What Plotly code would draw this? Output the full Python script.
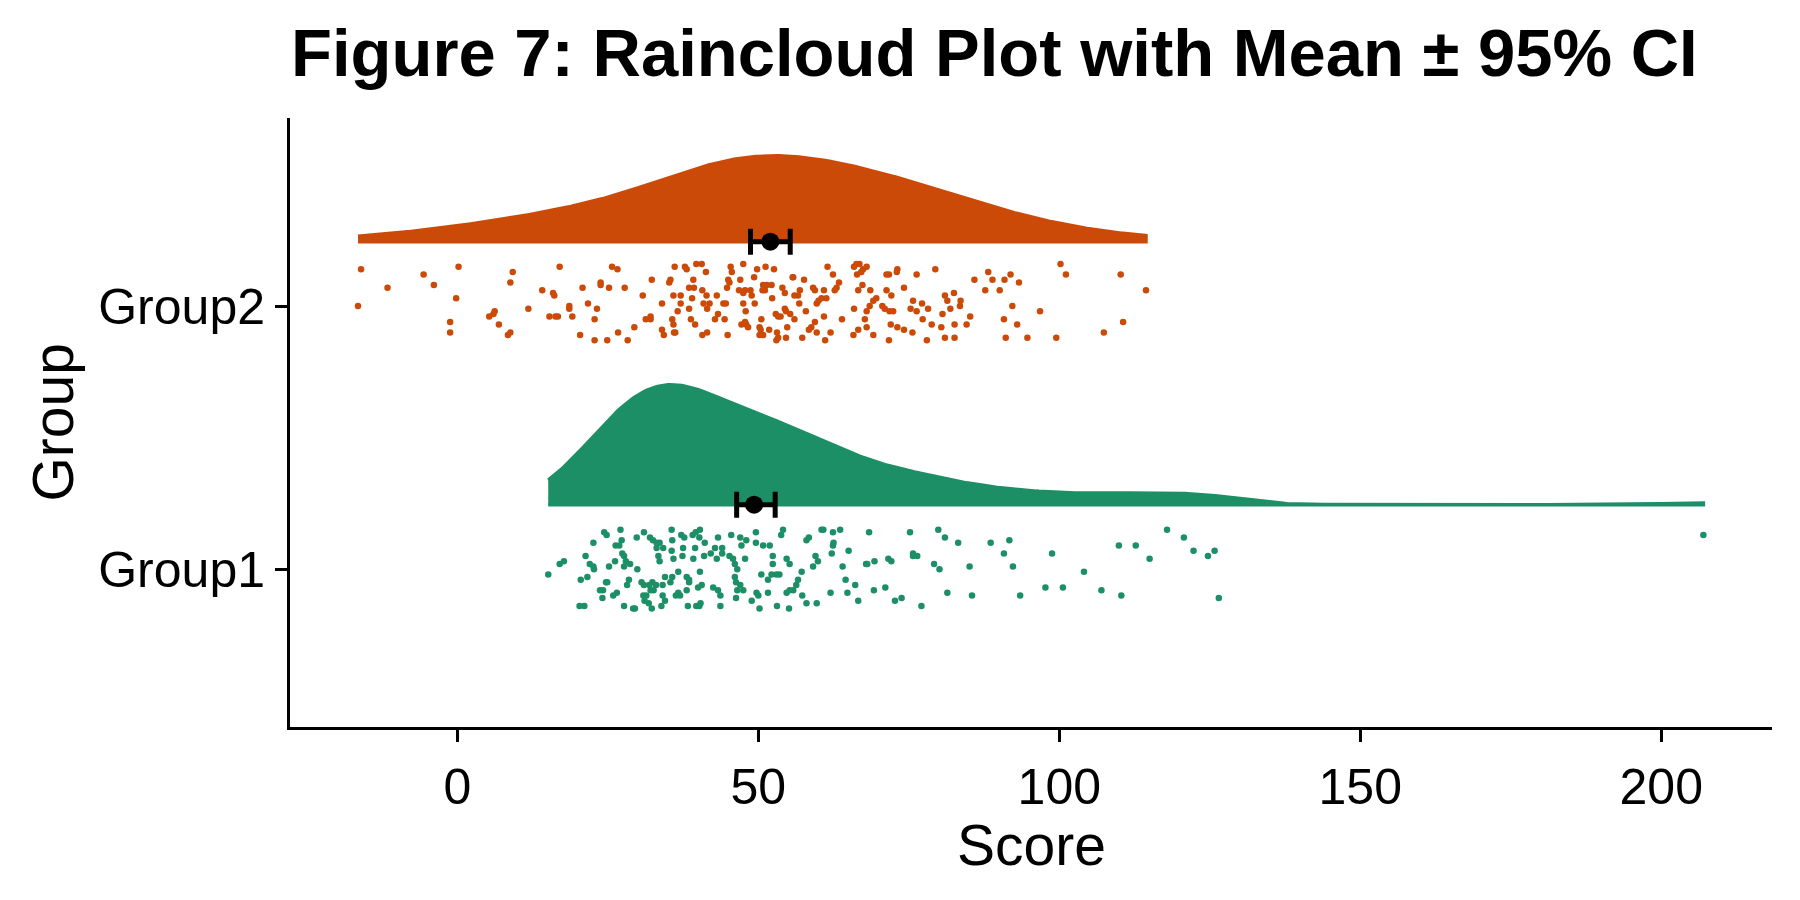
import numpy as np
import plotly.graph_objects as go

# ---------------- data ----------------
groups = ["Group1", "Group2"]
group_pos = [1, 2]
colors = ["#1D8F66", "#CC4A08"]

# (score, vertical jitter offset) for every raindrop
group1_points = [
    (15.1, -0.02), (17.0, 0.02), (17.7, 0.03), (20.5, -0.04), (21.6, -0.03), (20.3, -0.14), (21.1, -0.14),
    (21.3, 0.05), (22.0, 0.02), (22.6, 0.10), (22.7, 0.00), (22.6, 0.01), (23.7, -0.08), (24.2, -0.08),
    (24.7, -0.05), (24.9, -0.05), (24.1, -0.11), (24.4, 0.14), (24.8, 0.13), (25.2, 0.01), (26.2, 0.03),
    (25.9, -0.10), (26.5, -0.09), (26.3, 0.09), (26.9, 0.09), (27.1, 0.15), (27.3, 0.11), (27.4, 0.06),
    (27.7, 0.05), (27.7, 0.01), (28.0, 0.03), (28.7, 0.02), (27.7, -0.14), (28.2, -0.06), (28.5, -0.04),
    (29.2, -0.15), (29.5, -0.15), (29.9, 0.00), (29.8, 0.12), (31.0, 0.14), (30.6, -0.05), (31.0, -0.06),
    (30.9, -0.10), (31.4, -0.10), (31.1, -0.12), (31.8, -0.13), (32.3, -0.15), (32.0, 0.12), (32.5, 0.11),
    (33.1, 0.08), (33.4, 0.05), (33.6, 0.03), (33.1, 0.10), (34.2, 0.08), (33.6, 0.10), (34.5, -0.03),
    (31.9, -0.06), (32.4, -0.05), (33.0, -0.06), (34.1, -0.06), (32.1, -0.08), (32.6, -0.08), (34.1, -0.10),
    (34.5, -0.12), (33.9, -0.14), (35.6, 0.15), (35.7, 0.11), (35.6, 0.07), (35.9, 0.04), (35.7, -0.03),
    (35.4, -0.05), (36.7, -0.01), (37.2, 0.13), (37.7, 0.12), (37.5, 0.08), (37.4, 0.05), (36.3, -0.10),
    (36.7, -0.09), (37.0, -0.10), (38.1, -0.03), (38.5, -0.04), (38.5, -0.05), (38.1, -0.08), (38.3, -0.14),
    (39.1, 0.13), (39.6, 0.14), (40.3, 0.15), (40.2, 0.12), (39.5, 0.08), (39.2, 0.04), (40.3, -0.01),
    (40.0, -0.07), (40.6, -0.06), (40.2, -0.14), (39.7, -0.14), (40.4, -0.13), (41.0, 0.05), (41.1, 0.10),
    (42.1, 0.06), (42.8, 0.08), (43.3, 0.12), (43.1, 0.04), (42.5, -0.07), (43.3, -0.08), (43.7, -0.10),
    (43.7, -0.14), (44.0, 0.08), (44.0, 0.06), (45.5, 0.13), (45.2, 0.05), (45.8, 0.04), (46.1, 0.02),
    (46.1, -0.03), (46.5, 0.00), (46.3, -0.05), (46.5, -0.08), (47.0, -0.06), (47.5, -0.08), (46.3, -0.11),
    (47.2, 0.09), (47.0, 0.12), (48.0, 0.11), (47.8, 0.04), (49.6, 0.14), (49.6, 0.10), (50.8, 0.09),
    (51.9, 0.09), (52.4, 0.05), (52.4, 0.02), (50.5, -0.02), (51.6, -0.04), (52.2, -0.02), (53.5, -0.02),
    (53.0, -0.02), (48.9, -0.12), (49.7, -0.09), (50.0, -0.10), (50.2, -0.15), (51.6, -0.09), (53.1, -0.14),
    (53.8, 0.13), (54.1, 0.15), (54.7, 0.04), (55.2, 0.02), (54.7, -0.09), (55.2, -0.08), (55.8, -0.08),
    (56.3, -0.06), (56.6, -0.04), (57.2, -0.01), (57.3, -0.10), (55.1, -0.15), (58.0, -0.13), (59.7, -0.13),
    (58.0, 0.11), (58.4, 0.12), (59.1, 0.01), (59.5, 0.05), (59.9, 0.03), (60.5, 0.15), (60.8, 0.15),
    (62.2, 0.06), (62.4, 0.09), (62.5, 0.10), (62.4, 0.14), (63.6, 0.15), (64.0, 0.01), (65.0, 0.07),
    (64.5, -0.04), (64.8, -0.09), (66.1, -0.06), (66.6, -0.12), (62.0, -0.09), (68.4, 0.14), (67.9, 0.02),
    (68.1, 0.02), (69.3, 0.03), (69.2, -0.08), (71.1, -0.07), (71.6, 0.04), (72.1, 0.03), (72.7, -0.12),
    (73.8, -0.11), (75.2, 0.14), (75.7, 0.06), (75.7, 0.05), (76.4, 0.05), (77.1, -0.14), (79.2, 0.02),
    (80.1, 0.00), (79.9, 0.15), (81.0, 0.12), (81.4, -0.09), (83.2, 0.10), (85.1, 0.01), (85.5, -0.10),
    (88.6, 0.10), (90.8, 0.06), (91.7, 0.11), (92.3, 0.01), (93.5, -0.10), (97.7, -0.07), (98.8, 0.06),
    (100.6, -0.07), (104.1, -0.01), (107.0, -0.08), (109.9, 0.09), (110.3, -0.10), (112.7, 0.09),
    (115.0, 0.04), (117.9, 0.15), (120.7, 0.12), (122.3, 0.07), (124.7, 0.05), (125.8, 0.07), (126.5, -0.11),
    (207.0, 0.13),
]

group2_points = [
    (-16.0, 0.14), (-16.5, 0.00), (-11.6, 0.07), (-5.6, 0.12), (-3.9, 0.08), (0.2, 0.15), (-0.2, 0.03),
    (-1.2, -0.06), (-1.2, -0.10), (9.2, 0.13), (8.8, 0.09), (6.2, -0.02), (6.0, -0.03), (5.3, -0.04),
    (6.9, -0.07), (8.4, -0.11), (8.8, -0.10), (11.8, -0.01), (14.1, 0.06), (15.9, 0.05), (16.1, 0.04),
    (17.0, 0.15), (15.3, -0.04), (16.3, -0.04), (16.7, -0.04), (18.6, 0.00), (18.6, -0.01), (19.1, -0.04),
    (20.8, 0.07), (21.7, 0.01), (23.2, -0.01), (22.8, -0.05), (20.4, -0.11), (22.8, -0.13), (23.8, 0.09),
    (23.8, 0.08), (25.2, 0.07), (25.7, 0.15), (26.6, 0.14), (24.9, -0.13), (26.7, -0.10), (27.8, 0.07),
    (28.3, -0.13), (29.4, -0.08), (30.8, 0.04), (32.3, 0.10), (31.3, -0.05), (32.1, -0.04), (32.1, -0.05),
    (34.0, 0.01), (34.0, -0.09), (34.3, -0.11), (35.2, 0.09), (35.4, 0.10), (36.1, 0.15), (35.9, 0.04),
    (35.7, -0.05), (35.9, -0.07), (36.0, -0.10), (36.2, -0.10), (36.6, -0.02), (37.1, 0.04), (37.1, 0.01),
    (37.8, 0.15), (38.1, 0.14), (38.5, -0.01), (38.5, 0.07), (39.0, 0.03), (39.2, 0.10), (39.3, 0.07),
    (38.8, -0.05), (39.5, -0.07), (39.7, 0.16),
    (40.6, 0.16), (41.3, 0.13), (40.7, 0.06), (41.4, 0.04), (40.9, 0.01), (41.5, -0.01), (41.9, 0.01),
    (40.7, -0.11), (41.5, -0.10), (42.8, -0.05), (43.1, 0.04), (43.3, -0.03), (44.2, 0.01), (44.6, 0.01),
    (44.4, -0.05), (44.9, -0.11), (45.4, 0.15), (45.6, 0.13), (45.0, 0.10), (45.2, 0.09), (44.8, 0.07),
    (47.0, 0.10), (47.5, 0.16), (46.8, 0.06), (47.5, 0.05), (47.8, 0.06), (48.7, 0.06), (48.9, 0.04),
    (47.5, 0.01), (47.9, -0.02), (47.8, -0.06), (47.2, -0.07), (48.0, -0.07), (48.3, -0.08), (49.4, 0.01),
    (49.3, 0.11), (49.8, 0.14), (51.2, 0.15), (52.6, 0.14), (50.8, 0.08), (51.4, 0.08), (52.2, 0.08),
    (50.7, 0.06), (51.1, 0.06), (52.3, 0.03), (50.5, -0.05), (50.2, -0.08), (50.4, -0.09), (50.2, -0.11),
    (50.8, -0.11), (51.8, -0.09), (52.9, -0.03), (53.3, -0.04), (53.7, -0.04), (54.4, -0.01), (54.6, -0.02),
    (53.1, -0.10), (53.3, -0.12), (53.0, -0.13), (54.6, -0.12), (54.8, -0.08), (54.0, 0.07), (54.4, 0.05),
    (55.7, 0.11), (55.8, 0.11), (57.6, 0.10), (56.9, 0.06), (56.6, 0.04), (56.0, 0.04), (56.8, 0.01),
    (55.3, -0.03), (56.0, -0.05), (57.9, -0.02), (57.3, -0.12), (59.1, 0.07), (59.4, 0.06), (59.7, 0.01),
    (60.0, 0.02), (60.5, 0.03), (60.9, 0.06), (61.3, 0.03), (61.5, 0.15), (62.4, 0.12), (63.4, 0.09),
    (63.0, 0.07), (62.7, 0.06), (59.4, -0.06), (58.8, -0.08), (58.4, -0.09), (59.7, -0.10), (60.9, -0.04),
    (61.1, -0.13), (62.0, -0.10), (63.9, -0.05),
    (65.9, 0.15), (66.3, 0.16), (66.8, 0.16), (67.4, 0.14), (68.0, 0.15), (66.4, 0.12), (67.1, 0.13),
    (67.3, 0.08), (66.6, 0.06), (68.6, 0.06), (65.9, -0.01), (68.0, -0.02), (67.7, -0.05), (68.0, -0.08),
    (66.6, -0.09), (65.8, -0.11), (69.1, -0.11), (68.5, 0.00), (69.1, 0.02), (69.6, 0.03), (70.6, 0.00),
    (71.0, -0.01), (71.3, 0.12), (71.7, 0.12), (73.0, 0.13), (73.1, 0.14), (71.3, 0.06), (72.1, 0.04),
    (71.8, -0.02), (72.4, -0.02), (72.0, -0.07), (73.1, -0.08), (74.2, -0.09), (71.7, -0.13), (74.2, 0.07),
    (76.3, 0.12), (79.4, 0.14), (75.7, 0.02), (75.3, -0.01), (76.3, -0.02), (77.2, 0.01), (78.2, -0.01),
    (77.3, -0.05), (78.8, -0.07), (75.6, -0.10), (78.0, -0.13), (80.4, -0.08), (81.0, -0.12), (82.6, -0.12),
    (81.0, 0.04), (82.5, 0.05), (81.4, 0.02), (83.6, 0.02), (83.5, 0.00), (81.9, -0.01), (80.6, -0.03),
    (82.6, -0.07), (85.2, -0.04), (84.6, -0.07),
    (85.9, 0.10), (88.2, 0.13), (88.9, 0.10), (87.7, 0.06), (90.1, 0.06), (90.9, 0.10), (91.9, 0.12),
    (93.3, 0.09), (92.2, 0.00), (90.8, -0.05), (93.0, -0.07), (91.1, -0.12), (94.7, -0.12), (96.8, -0.02),
    (99.5, -0.12), (100.2, 0.16), (101.1, 0.12), (107.4, -0.10), (110.2, 0.12), (110.6, -0.06), (114.4, 0.06),
]

# mean and 95% CI
means = [49.3, 52.0]
ci_low = [46.4, 48.7]
ci_high = [52.8, 55.3]

x_ticks = [0, 50, 100, 150, 200]

# ---------------- styling constants ----------------
CLOUD_NUDGE = 0.245      # density baseline / error bar above the group line
CLOUD_MAX = 0.456        # tallest cloud height (axis units)
BW_ADJUST = [1.0, 1.6]   # kernel bandwidth multiplier per group
FONT = "Liberation Sans, Arial, Helvetica, sans-serif"


def trimmed_kde(values, adjust):
    v = np.asarray(values, float)
    n = v.size
    sd = v.std(ddof=1)
    q75, q25 = np.percentile(v, [75, 25])
    h = 0.9 * min(sd, (q75 - q25) / 1.34) * n ** (-0.2) * adjust
    grid = np.linspace(v.min(), v.max(), 512)
    d = np.exp(-0.5 * ((grid[:, None] - v[None, :]) / h) ** 2).sum(axis=1)
    d /= n * h * np.sqrt(2 * np.pi)
    return grid, d


all_points = [group1_points, group2_points]
kdes = [trimmed_kde([p[0] for p in pts], BW_ADJUST[i]) for i, pts in enumerate(all_points)]
scale = CLOUD_MAX / max(k[1].max() for k in kdes)

fig = go.Figure()

for i, pts in enumerate(all_points):
    grid, dens = kdes[i]
    base = group_pos[i] + CLOUD_NUDGE
    xs = np.concatenate([grid, grid[::-1]])
    ys = np.concatenate([base + dens * scale, np.full(grid.size, base)])
    fig.add_trace(go.Scatter(
        x=xs, y=ys, mode="lines", fill="toself", fillcolor=colors[i],
        line=dict(color=colors[i], width=3.5), hoverinfo="skip", name=groups[i]))

for i, pts in enumerate(all_points):
    scores = [p[0] for p in pts]
    jit = [group_pos[i] + p[1] for p in pts]
    fig.add_trace(go.Scatter(
        x=scores, y=jit, mode="markers",
        marker=dict(color=colors[i], size=6.5, line=dict(width=0)), name=groups[i]))

for i in range(len(groups)):
    fig.add_trace(go.Scatter(
        x=[means[i]], y=[group_pos[i] + CLOUD_NUDGE], mode="markers",
        marker=dict(color="black", size=18),
        error_x=dict(type="data", symmetric=False,
                     array=[ci_high[i] - means[i]], arrayminus=[means[i] - ci_low[i]],
                     color="black", thickness=5, width=13),
        name=groups[i] + " mean"))

axis_common = dict(showline=True, linewidth=3, linecolor="black", ticks="outside",
                   ticklen=12, tickwidth=3, tickcolor="black", showgrid=False,
                   zeroline=False, tickfont=dict(size=50, color="black", family=FONT))

fig.update_layout(
    width=1800, height=900,
    margin=dict(l=290, r=28, t=118, b=173),
    plot_bgcolor="white", paper_bgcolor="white", showlegend=False,
    font=dict(family=FONT, color="black"),
    xaxis=dict(range=[-27.8, 218.4], tickvals=x_ticks, ticklabelstandoff=2, **axis_common),
    yaxis=dict(range=[0.40, 2.715], tickvals=group_pos, ticktext=groups, **axis_common),
    title=dict(text="<b>Figure 7: Raincloud Plot with Mean ± 95% CI</b>",
               font=dict(size=67, family=FONT, color="black"),
               x=291 / 1800, xanchor="left", xref="container",
               y=1 - 53 / 900, yanchor="middle"),
    annotations=[
        dict(text="Score", xref="paper", yref="paper", x=0.5, y=-(845 - 727) / 609,
             xanchor="center", yanchor="middle", showarrow=False,
             font=dict(size=57, family=FONT, color="black")),
        dict(text="Group", xref="paper", yref="paper", x=-(290 - 52) / 1482, y=0.5,
             xanchor="center", yanchor="middle", textangle=-90, showarrow=False,
             font=dict(size=57, family=FONT, color="black")),
    ],
)

fig.write_html("out.html")
